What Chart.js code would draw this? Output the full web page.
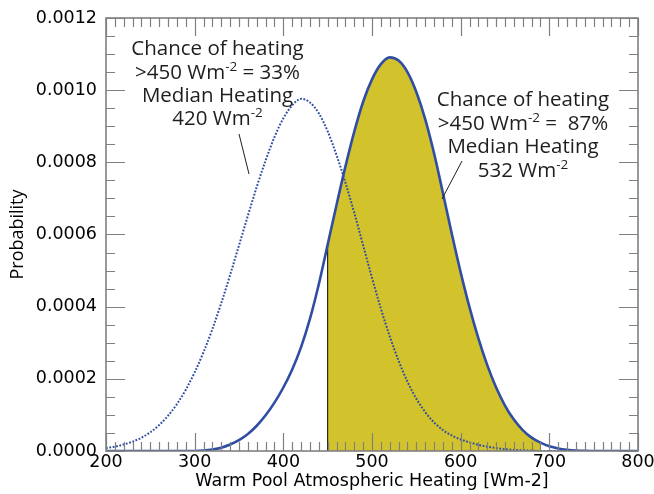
<!DOCTYPE html>
<html><head><meta charset="utf-8">
<script src="https://cdn.jsdelivr.net/npm/chart.js@4/dist/chart.umd.min.js"></script>
<style>html,body{margin:0;padding:0;background:#fff}#wrap{width:654px;height:494px}</style>
</head><body><div id="wrap"><canvas id="c" width="654" height="494"></canvas></div>
<script>
// Heating values (Wm-2)
const heating = [200,210,220,230,240,250,260,270,280,290,300,310,320,330,340,350,360,370,380,390,400,410,420,430,440,450,460,470,480,490,500,510,520,530,540,550,560,570,580,590,600,610,620,630,640,650,660,670,680,690,700,710,720,730,740,750,760,770,780,790,800];
// Dotted curve: median 420 Wm-2, chance >450 = 33%
const probMedian420 = [0.08e-4,0.12e-4,0.18e-4,0.26e-4,0.37e-4,0.52e-4,0.72e-4,0.98e-4,1.30e-4,1.70e-4,2.18e-4,2.74e-4,3.38e-4,4.10e-4,4.88e-4,5.70e-4,6.52e-4,7.32e-4,8.05e-4,8.70e-4,9.22e-4,9.58e-4,9.76e-4,9.66e-4,9.36e-4,8.86e-4,8.20e-4,7.44e-4,6.60e-4,5.70e-4,4.80e-4,3.95e-4,3.18e-4,2.50e-4,1.92e-4,1.45e-4,1.08e-4,0.79e-4,0.58e-4,0.43e-4,0.32e-4,0.24e-4,0.17e-4,0.12e-4,0.08e-4,0.05e-4,0.03e-4,0.02e-4,0.01e-4,0,0,0,0,0,0,0,0,0,0,0,0];
// Solid curve: median 532 Wm-2, chance >450 = 87%
const probMedian532 = [0,0,0,0,0,0,0,0,0,0,0,0.01e-4,0.04e-4,0.09e-4,0.18e-4,0.30e-4,0.47e-4,0.70e-4,0.99e-4,1.34e-4,1.76e-4,2.26e-4,2.88e-4,3.66e-4,4.62e-4,5.72e-4,6.82e-4,7.88e-4,8.85e-4,9.68e-4,10.30e-4,10.72e-4,10.91e-4,10.82e-4,10.50e-4,9.95e-4,9.20e-4,8.25e-4,7.15e-4,6.02e-4,4.95e-4,3.98e-4,3.12e-4,2.38e-4,1.76e-4,1.26e-4,0.87e-4,0.58e-4,0.37e-4,0.23e-4,0.13e-4,0.07e-4,0.035e-4,0.015e-4,0.005e-4,0,0,0,0,0,0];
// Shaded range
const shadeFrom = 450, shadeTo = 690;
// Axis ticks
const xTicks = [200,300,400,500,600,700,800];
const yTicks = [0,0.0002,0.0004,0.0006,0.0008,0.0010,0.0012];
const xMinorStep = 10, yMinorStep = 0.00005;
// Annotation texts
const noteLeft = [
  [{t:'Chance of heating'}],
  [{t:'>450 Wm'},{t:'-2',sup:true},{t:' = 33%'}],
  [{t:'Median Heating'}],
  [{t:'420 Wm'},{t:'-2',sup:true}]
];
const noteRight = [
  [{t:'Chance of heating'}],
  [{t:'>450 Wm'},{t:'-2',sup:true},{t:' =  87%'}],
  [{t:'Median Heating'}],
  [{t:'532 Wm'},{t:'-2',sup:true}]
];

const solidPts = heating.map((h,i)=>({x:h,y:probMedian532[i]}));
const dottedPts = heating.map((h,i)=>({x:h,y:probMedian420[i]}));
const shadePts = solidPts.filter(p=>p.x>=shadeFrom && p.x<=shadeTo);
const edgePts = [{x:shadeFrom,y:0},{x:shadeFrom,y:probMedian532[heating.indexOf(shadeFrom)]}];

const BLUE = '#2f4ea3';
const YELLOW = '#d2c22b';
const AXIS = '#808080';

const decor = {
  id:'decor',
  afterDatasetsDraw(chart){
    const {ctx, chartArea:a, scales:{x,y}} = chart;
    ctx.save();
    ctx.strokeStyle = AXIS; ctx.lineWidth = 1.2;
    for (let v = x.min; v <= x.max + 1e-9; v += xMinorStep) {
      const px = Math.round(x.getPixelForValue(v)) + 0.5;
      const major = xTicks.includes(Math.round(v));
      const len = major ? 18 : 9;
      ctx.beginPath();
      ctx.moveTo(px, a.bottom); ctx.lineTo(px, a.bottom - len);
      ctx.moveTo(px, a.top); ctx.lineTo(px, a.top + len);
      ctx.stroke();
    }
    for (let k = 0; k <= Math.round((y.max - y.min)/yMinorStep); k++) {
      const v = y.min + k*yMinorStep;
      const py = Math.round(y.getPixelForValue(v)) + 0.5;
      const major = k % 4 === 0;
      const len = major ? 19 : 9;
      ctx.beginPath();
      ctx.moveTo(a.left, py); ctx.lineTo(a.left + len, py);
      ctx.moveTo(a.right, py); ctx.lineTo(a.right - len, py);
      ctx.stroke();
    }
    ctx.lineWidth = 1.6;
    ctx.strokeRect(a.left, a.top, a.right - a.left, a.bottom - a.top);
    const drawNote = (lines, cx, baselines) => {
      ctx.fillStyle = '#1e1e1e';
      lines.forEach((segs, i) => {
        let w = 0;
        segs.forEach(s => { ctx.font = (s.sup ? '13.5px' : '20.5px') + ' "Open Sans"'; w += ctx.measureText(s.t).width; });
        let cur = cx - w/2;
        segs.forEach(s => {
          ctx.font = (s.sup ? '13.5px' : '20.5px') + ' "Open Sans"';
          ctx.textAlign = 'left'; ctx.textBaseline = 'alphabetic';
          ctx.fillText(s.t, cur, baselines[i] - (s.sup ? 8 : 0));
          cur += ctx.measureText(s.t).width;
        });
      });
    };
    drawNote(noteLeft, 217.5, [55, 78.5, 102, 125]);
    drawNote(noteRight, 523, [106, 130, 153, 177]);
    ctx.strokeStyle = '#1e1e1e'; ctx.lineWidth = 1;
    ctx.beginPath();
    ctx.moveTo(239, 134); ctx.lineTo(249, 174);
    ctx.moveTo(462, 161); ctx.lineTo(442, 199);
    ctx.stroke();
    ctx.restore();
  }
};

new Chart(document.getElementById('c'), {
  type: 'line',
  data: {
    datasets: [
      {data: solidPts, borderColor: BLUE, borderWidth: 2.6, pointRadius: 0, cubicInterpolationMode: 'monotone', fill: false, order: 0},
      {data: dottedPts, borderColor: BLUE, borderWidth: 2, borderDash: [1.8, 1.6], pointRadius: 0, cubicInterpolationMode: 'monotone', fill: false, order: 1},
      {data: edgePts, borderColor: '#000', borderWidth: 1, pointRadius: 0, fill: false, order: 2},
      {data: shadePts, borderWidth: 0, borderColor: 'rgba(0,0,0,0)', backgroundColor: YELLOW, pointRadius: 0, cubicInterpolationMode: 'monotone', fill: 'origin', order: 3}
    ]
  },
  options: {
    responsive: false, animation: false, devicePixelRatio: 1,
    layout: {padding: {top: 18, right: 16, left: 0, bottom: 0}},
    plugins: {legend: {display: false}, tooltip: {enabled: false}},
    scales: {
      x: {
        type: 'linear', min: 200, max: 800,
        afterBuildTicks: s => { s.ticks = xTicks.map(v => ({value: v})); },
        afterFit: s => { s.height = 43; s.paddingLeft = 0; s.paddingRight = 0; },
        grid: {display: false, drawTicks: false}, border: {display: false},
        ticks: {color: '#000', font: {family: '"DejaVu Sans"', size: 17.5}, padding: 1, maxRotation: 0},
        title: {display: true, text: 'Warm Pool Atmospheric Heating [Wm-2]', color: '#000', font: {family: '"DejaVu Sans"', size: 17.5}, padding: 2}
      },
      y: {
        type: 'linear', min: 0, max: 0.0012,
        afterBuildTicks: s => { s.ticks = yTicks.map(v => ({value: v})); },
        afterFit: s => { s.width = 106; s.paddingTop = 0; s.paddingBottom = 0; },
        grid: {display: false, drawTicks: false}, border: {display: false},
        ticks: {color: '#000', font: {family: '"DejaVu Sans"', size: 17.5}, padding: 9, callback: v => v.toFixed(4)},
        title: {display: true, text: 'Probability', color: '#000', font: {family: '"Open Sans"', size: 18}, padding: 7}
      }
    }
  },
  plugins: [decor]
});
</script>
</body></html>
